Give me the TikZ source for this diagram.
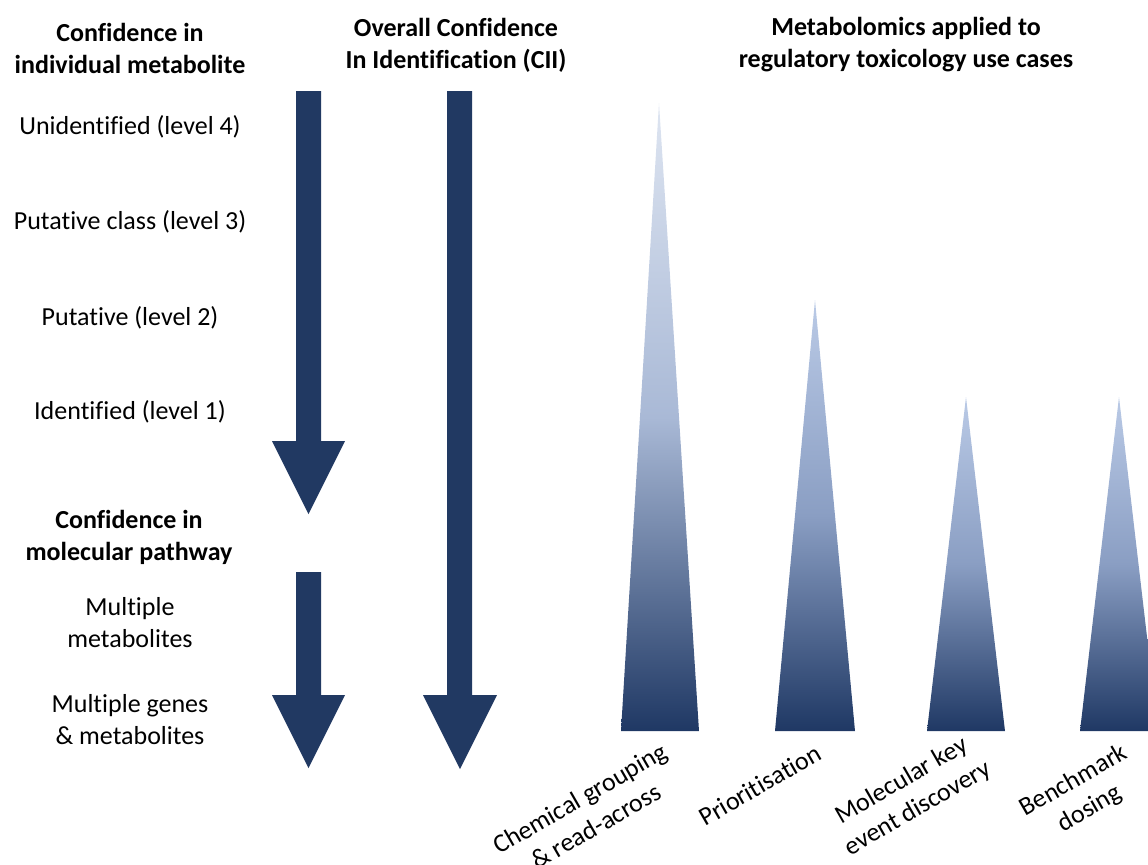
\documentclass[tikz,border=0pt]{standalone}
\usepackage{fontspec}
\setmainfont{Carlito}[Ligatures=NoCommon]
\usetikzlibrary{positioning}
\definecolor{navy}{RGB}{33,57,98}
\definecolor{tribot}{RGB}{31,56,100}
\definecolor{tritopa}{RGB}{222,229,241}
\definecolor{trimida}{RGB}{169,185,214}
\definecolor{tritopb}{RGB}{186,202,230}
\definecolor{trimidb}{RGB}{138,158,195}
\tikzset{
  lbl/.style    = {align=center, inner sep=0pt, font=\fontsize{13}{16}\selectfont},
  hdr/.style    = {lbl, font=\fontsize{13}{16}\selectfont\bfseries},
  case/.style   = {lbl, rotate=30},
  barrow/.style = {fill=navy},
  peakA/.style  = {bottom color=tribot, top color=tritopa, middle color=trimida},
  peak/.style   = {bottom color=tribot, top color=tritopb, middle color=trimidb},
}
\begin{document}
\begin{tikzpicture}[x=0.5pt, y=-0.5pt]
  \useasboundingbox (0,0) rectangle (1148,864);
  % headings
  \node[hdr] (hmet) at (130,48) {Confidence in\\individual metabolite};
  \node[hdr] (hcii) at (456,45) {Overall Confidence\\In Identification (CII)};
  \node[hdr] (huse) at (906,45) {Metabolomics applied to\\regulatory toxicology use cases};
  % identification levels
  \node[lbl] (lv4) at (130,127) {Unidentified (level 4)};
  \node[lbl] (lv3) at (130,222) {Putative class (level 3)};
  \node[lbl] (lv2) at (130,318) {Putative (level 2)};
  \node[lbl] (lv1) at (130,412) {Identified (level 1)};
  % pathway levels
  \node[hdr] (hpath) at (129,537) {Confidence in\\molecular pathway};
  \node[lbl] (pmet) at (130,623) {Multiple\\metabolites};
  \node[lbl] (pgen) at (130,720) {Multiple genes\\\& metabolites};
  % block arrows
  \fill[barrow] (296,91) -- (321,91) -- (321,441) -- (345,441) -- (308.5,514)
    -- (272,441) -- (296,441) -- cycle;
  \fill[barrow] (296,572) -- (321,572) -- (321,695) -- (345,695) -- (308.5,768)
    -- (272,695) -- (296,695) -- cycle;
  \fill[barrow] (447,91) -- (472,91) -- (472,695) -- (497,695) -- (460,769)
    -- (423,695) -- (447,695) -- cycle;
  % use case peaks
  \shade[peakA] (621,731) -- (659,103) -- (699,731) -- cycle;
  \shade[peak] (775,731) -- (815,300) -- (855,731) -- cycle;
  \shade[peak] (927,731) -- (966,397) -- (1005,731) -- cycle;
  \shade[peak] (1080,731) -- (1119,397) -- (1158,731) -- cycle;
  % use case labels
  \node[case] (ucg) at (588,812) {Chemical grouping\\\& read-across};
  \node[case] (upr) at (760,785) {Prioritisation};
  \node[case] (ukey) at (910,795) {Molecular key\\event discovery};
  \node[case] (ubmd) at (1082,795) {Benchmark\\dosing};
\end{tikzpicture}
\end{document}
